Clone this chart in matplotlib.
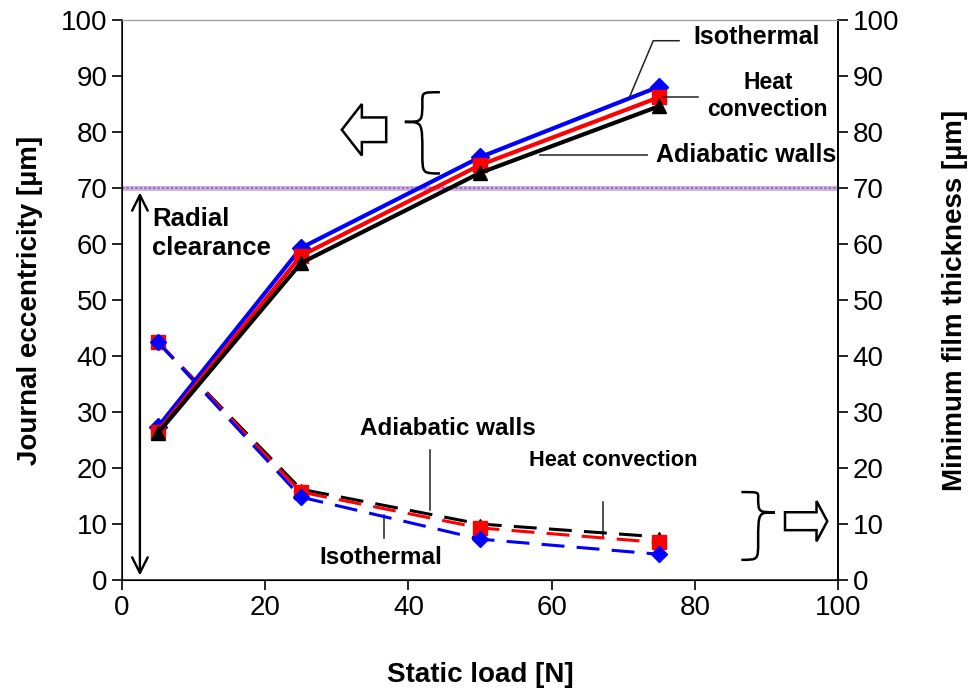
import matplotlib
matplotlib.use("Agg")
import matplotlib.pyplot as plt
from matplotlib.path import Path
from matplotlib.patches import PathPatch, Polygon

plt.rcParams['font.family'] = ['Liberation Sans', 'DejaVu Sans']

load = [5, 25, 50, 75]
ecc_iso = [27.3, 59.3, 75.5, 88.1]
ecc_conv = [26.5, 57.9, 74.1, 86.2]
ecc_adia = [26.2, 56.6, 72.7, 84.6]
film_iso = [42.5, 14.8, 7.3, 4.6]
film_conv = [42.5, 15.7, 9.3, 6.7]
film_adia = [42.5, 16.2, 10.0, 7.7]
clearance = 70
ticks = list(range(0, 101, 10))
xticks = list(range(0, 101, 20))

fig = plt.figure(figsize=(9.69, 6.89), dpi=100)
ax = fig.add_axes([122/969, (689-580)/689, (838-122)/969, (580-20)/689])
ax.set_xlim(0, 100)
ax.set_ylim(0, 100)

# clearance line
ax.axhline(clearance, color='#cbb3df', lw=3.5, zorder=2)
ax.axhline(clearance, color='#9a6cc0', lw=1.6, ls=(0, (1, 1)), zorder=2)

ms = 10
# solid eccentricity lines
ax.plot(load, ecc_iso, color='#0000ff', lw=3, marker='D', ms=ms-1, zorder=5)
ax.plot(load, ecc_conv, color='#ff0000', lw=3, marker='s', ms=ms, zorder=5)
ax.plot(load, ecc_adia, color='#000000', lw=3, marker='^', ms=ms, zorder=5)
# dashed film thickness lines
dash = (0, (7.5, 4))
ax.plot(load, film_adia, color='#000000', lw=2.2, ls=dash, marker='^', ms=ms-3, zorder=4)
ax.plot(load, film_conv, color='#ff0000', lw=2.2, ls=dash, marker='s', ms=ms, zorder=4)
ax.plot(load, film_iso, color='#0000ff', lw=2.2, ls=dash, marker='D', ms=ms-2, zorder=4)

# radial clearance arrow
ax.annotate('', xy=(2.5, 0.3), xytext=(2.5, clearance - 0.3),
            arrowprops=dict(arrowstyle='<->', lw=1.7, color='black',
                            mutation_scale=28))
ax.text(4.2, 61.9, 'Radial\nclearance', fontsize=18.5, fontweight='bold',
        ha='left', va='center', linespacing=1.25)

# annotations (top)
lc = '#222222'
ax.plot([70.9, 74.2, 77.8], [86.3, 96.3, 96.3], color=lc, lw=1.1, zorder=6)
ax.text(79.8, 96.9, 'Isothermal', fontsize=18, fontweight='bold', ha='left', va='center')
ax.plot([75.6, 80.4], [86.3, 86.3], color=lc, lw=1.1, zorder=6)
ax.text(90.2, 86.4, 'Heat\nconvection', fontsize=16.5, fontweight='bold', ha='center',
        va='center', linespacing=1.25)
ax.plot([58.4, 73.3], [75.9, 75.9], color='#444444', lw=1.3, zorder=6)
ax.text(74.6, 75.9, 'Adiabatic walls', fontsize=18, fontweight='bold', ha='left', va='center')

# annotations (bottom)
ax.plot([43.0, 43.0], [23.2, 12.5], color=lc, lw=1.1)
ax.text(33.2, 27.0, 'Adiabatic walls', fontsize=17.5, fontweight='bold', ha='left', va='center')
ax.plot([67.2, 67.2], [13.9, 7.7], color=lc, lw=1.1)
ax.text(56.8, 21.4, 'Heat convection', fontsize=15.7, fontweight='bold', ha='left', va='center')
ax.plot([36.6, 36.6], [11.6, 7.5], color=lc, lw=1.1)
ax.text(27.6, 4.1, 'Isothermal', fontsize=17.5, fontweight='bold', ha='left', va='center')

# braces
def brace(ax, x_tip, y_mid, x_end, y_top, y_bot):
    xm = (x_tip + x_end) / 2
    verts = [(x_end, y_top), (xm, y_top), (xm, y_top), (xm, (y_top + y_mid) / 2 + 1),
             (xm, y_mid), (xm, y_mid), (x_tip, y_mid),
             (xm, y_mid), (xm, y_mid), (xm, (y_bot + y_mid) / 2 - 1),
             (xm, y_bot), (xm, y_bot), (x_end, y_bot)]
    codes = [Path.MOVETO, Path.CURVE4, Path.CURVE4, Path.LINETO,
             Path.CURVE4, Path.CURVE4, Path.CURVE4,
             Path.CURVE4, Path.CURVE4, Path.LINETO,
             Path.CURVE4, Path.CURVE4, Path.CURVE4]
    ax.add_patch(PathPatch(Path(verts, codes), fill=False, lw=1.8, color='black', zorder=6))

brace(ax, 39.5, 81.8, 44.4, 87.1, 72.6)
brace(ax, 91.2, 12.1, 86.5, 15.7, 3.6)

# block arrows
def block_arrow(ax, x_tail, x_base, x_tip, yc, hb, hh):
    pts = [(x_tail, yc - hb), (x_base, yc - hb), (x_base, yc - hh), (x_tip, yc),
           (x_base, yc + hh), (x_base, yc + hb), (x_tail, yc + hb)]
    ax.add_patch(Polygon(pts, closed=True, facecolor='white', edgecolor='black',
                         lw=1.8, zorder=6))

block_arrow(ax, 36.9, 33.5, 30.7, 80.4, 2.2, 4.6)
block_arrow(ax, 92.6, 97.0, 98.5, 10.5, 1.6, 3.6)

# axes styling
ax.set_xticks(xticks)
ax.set_yticks(ticks)
ax.tick_params(axis='both', labelsize=20, direction='out', length=7, width=1.2)
ax.set_xlabel('Static load [N]', fontsize=20, fontweight='bold', labelpad=30)
ax.set_ylabel('Journal eccentricity [µm]', fontsize=20, fontweight='bold', labelpad=13)
for s in ['left', 'bottom']:
    ax.spines[s].set_linewidth(1.2)
    ax.spines[s].set_color('#222222')
ax.spines['top'].set_color('#999999')
ax.spines['right'].set_linewidth(1.2)

ax2 = ax.twinx()
ax2.set_ylim(0, 100)
ax2.set_yticks(ticks)
ax2.tick_params(axis='y', labelsize=20, direction='out', length=7, width=1.2)
ax2.set_ylabel('Minimum film thickness [µm]', fontsize=20, fontweight='bold', labelpad=31)
ax2.spines['top'].set_color('#999999')
ax2.spines['right'].set_linewidth(1.2)

fig.savefig('out.png', dpi=100)
